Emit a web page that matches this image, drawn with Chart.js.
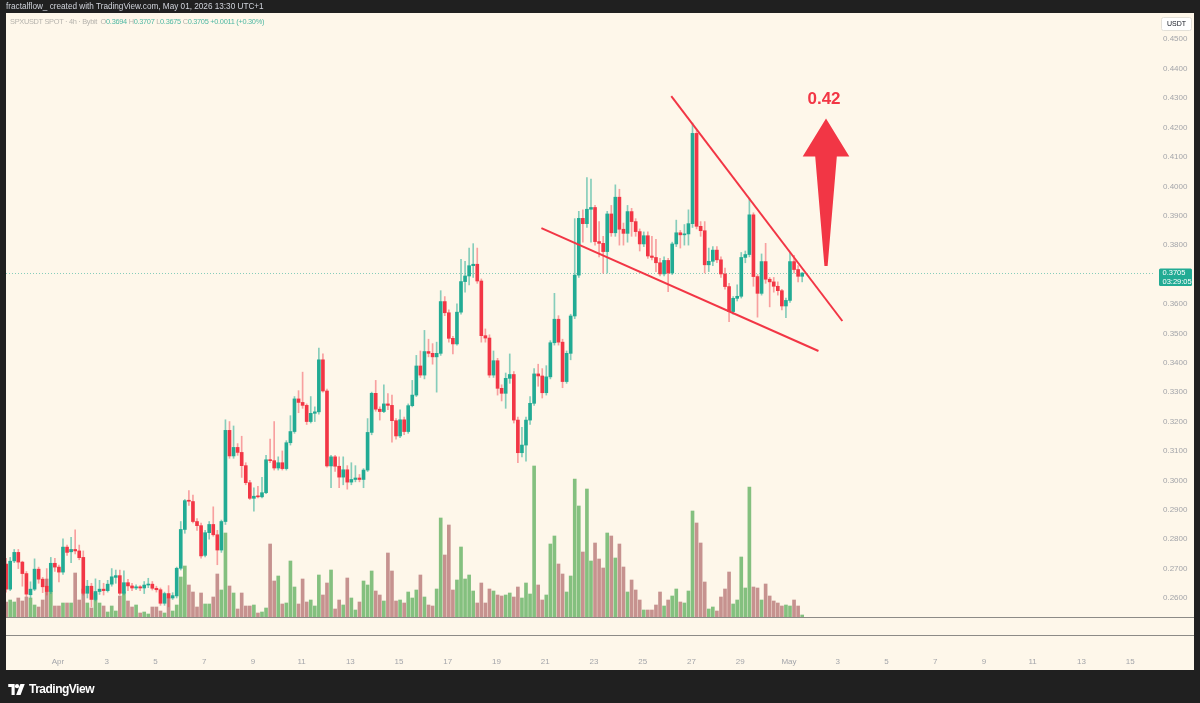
<!DOCTYPE html>
<html>
<head>
<meta charset="utf-8">
<title>SPXUSDT 4h</title>
<script src="https://cdn.jsdelivr.net/npm/chart.js@4.4.1/dist/chart.umd.min.js"></script>
<style>
  html, body { margin: 0; padding: 0; width: 1200px; height: 703px; overflow: hidden; background: #202020; font-family: "Liberation Sans", Arial, sans-serif; }
  #panel { position: absolute; left: 6px; top: 13px; width: 1188px; height: 657px; background: #fef7ea; }
  #chart { position: absolute; left: 0; top: 0; }
  #header { position: absolute; left: 6px; top: 1px; font-size: 8.2px; line-height: 11px; color: #d1d4dc; white-space: nowrap; }
  #legend { position: absolute; left: 10px; top: 17px; font-size: 7.4px; line-height: 10px; letter-spacing: -0.3px; color: #b5b3ad; white-space: nowrap; }
  #legend .v { color: #4fb8a3; }
  #footer { position: absolute; left: 8px; top: 681px; height: 16px; display: flex; align-items: center; color: #fff; font-size: 12px; font-weight: bold; letter-spacing: -0.5px; }
  #footer svg { margin-right: 4px; }
</style>
</head>
<body>
<div id="panel"></div>
<canvas id="chart" width="1200" height="703"></canvas>
<div id="header">fractalflow_ created with TradingView.com, May 01, 2026 13:30 UTC+1</div>
<div id="legend"></div>
<div id="footer">
  <svg width="17" height="11" viewBox="0 0 18 12"><path d="M0 0h7v12H3.6V3.4H0z" fill="#fff"/><circle cx="9.6" cy="2.4" r="2.3" fill="#fff"/><path d="M13.2 0H18l-4.6 12H8.6z" fill="#fff"/></svg>
  <span>TradingView</span>
</div>
<script>
// SPXUSDT 4h candles, Mar 29 21:00 -> May 1 13:00 (UTC+1)
var firstCandleDay = -2.125;   // days from Apr 1 00:00
var candlesPerDay = 6;

var openP = [
  .2715,.2630,.2726,.2755,.2722,.2683,.2611,.2630,.2698,.2664,
  .2640,.2622,.2718,.2705,.2688,.2773,.2757,.2765,.2760,.2738,
  .2616,.2640,.2595,.2622,.2630,.2625,.2647,.2670,.2676,.2616,
  .2652,.2641,.2634,.2638,.2634,.2644,.2647,.2633,.2628,.2582,
  .2615,.2600,.2607,.2701,.2833,.2931,.2928,.2860,.2846,.2745,
  .2822,.2850,.2815,.2763,.2860,.3170,.3083,.3112,.3095,.3050,
  .2992,.2939,.2946,.2944,.2958,.3070,.3067,.3042,.3060,.3040,
  .3128,.3166,.3277,.3265,.3255,.3200,.3228,.3233,.3410,.3304,
  .3049,.3080,.3048,.3011,.3036,.2994,.3003,.3008,.3003,.3035,
  .3163,.3296,.3242,.3234,.3260,.3255,.3203,.3151,.3206,.3166,
  .3254,.3290,.3389,.3358,.3438,.3432,.3420,.3432,.3608,.3570,
  .3483,.3464,.3572,.3676,.3695,.3730,.3735,.3678,.3492,.3484,
  .3358,.3407,.3313,.3296,.3347,.3360,.3205,.3094,.3120,.3205,
  .3262,.3362,.3355,.3298,.3352,.3468,.3548,.3470,.3336,.3432,
  .3559,.3698,.3891,.3873,.3922,.3928,.3812,.3806,.3778,.3906,
  .3842,.3963,.3854,.3840,.3914,.3880,.3846,.3804,.3832,.3763,
  .3758,.3740,.3702,.3748,.3705,.3804,.3842,.3835,.3838,.3873,
  .4180,.3864,.3849,.3733,.3745,.3783,.3750,.3702,.3659,.3574,
  .3619,.3626,.3758,.3768,.3903,.3693,.3636,.3744,.3684,.3675,
  .3660,.3645,.3593,.3612,.3744,.3717,.3694
];
var highP = [
  .2735,.2738,.2765,.2765,.2725,.2690,.2655,.2733,.2705,.2670,
  .2700,.2738,.2735,.2712,.2801,.2780,.2806,.2832,.2780,.2760,
  .2660,.2650,.2665,.2660,.2650,.2660,.2700,.2695,.2695,.2692,
  .2663,.2650,.2645,.2642,.2656,.2667,.2656,.2640,.2634,.2620,
  .2642,.2618,.2705,.2860,.2935,.2965,.2950,.2870,.2855,.2830,
  .2860,.2910,.2830,.2865,.3206,.3200,.3185,.3125,.3150,.3060,
  .3000,.2975,.2980,.3010,.3085,.3140,.3200,.3080,.3100,.3135,
  .3220,.3285,.3305,.3368,.3260,.3285,.3250,.3450,.3430,.3310,
  .3085,.3085,.3080,.3080,.3050,.3060,.3050,.3020,.3040,.3210,
  .3300,.3340,.3250,.3325,.3295,.3290,.3210,.3240,.3215,.3260,
  .3340,.3425,.3440,.3510,.3480,.3465,.3470,.3645,.3625,.3580,
  .3490,.3600,.3752,.3745,.3790,.3805,.3790,.3685,.3515,.3495,
  .3440,.3415,.3325,.3365,.3430,.3370,.3215,.3180,.3215,.3285,
  .3380,.3395,.3380,.3390,.3475,.3636,.3560,.3480,.3440,.3565,
  .3890,.3915,.3920,.4030,.4025,.3935,.3880,.3830,.3915,.3935,
  .4005,.3990,.3875,.3935,.3925,.3890,.3855,.3845,.3845,.3830,
  .3820,.3755,.3760,.3755,.3810,.3885,.3850,.3870,.3920,.4215,
  .4190,.3880,.3880,.3790,.3795,.3795,.3760,.3722,.3670,.3625,
  .3665,.3775,.3780,.3960,.3910,.3700,.3770,.3806,.3690,.3690,
  .3675,.3650,.3620,.3775,.3765,.3730,.3707
];
var lowP = [
  .2620,.2625,.2720,.2700,.2640,.2605,.2600,.2625,.2650,.2618,
  .2610,.2615,.2690,.2655,.2680,.2745,.2720,.2750,.2730,.2610,
  .2600,.2570,.2590,.2612,.2610,.2620,.2640,.2650,.2610,.2610,
  .2625,.2625,.2628,.2625,.2615,.2635,.2627,.2620,.2575,.2575,
  .2570,.2595,.2600,.2695,.2820,.2915,.2855,.2830,.2735,.2740,
  .2800,.2810,.2713,.2755,.2850,.3075,.3075,.3085,.3010,.2985,
  .2935,.2895,.2940,.2940,.2955,.3060,.3035,.3035,.3035,.3035,
  .3120,.3160,.3230,.3245,.3190,.3195,.3200,.3225,.3300,.3045,
  .2975,.3030,.2975,.2985,.2970,.2985,.2995,.2995,.2975,.3030,
  .3155,.3235,.3205,.3230,.3240,.3130,.3140,.3145,.3155,.3160,
  .3250,.3285,.3350,.3345,.3420,.3395,.3300,.3425,.3560,.3470,
  .3430,.3460,.3565,.3640,.3665,.3690,.3670,.3470,.3470,.3350,
  .3350,.3290,.3270,.3245,.3330,.3195,.3060,.3080,.3065,.3190,
  .3255,.3320,.3280,.3290,.3345,.3460,.3460,.3315,.3330,.3410,
  .3550,.3690,.3810,.3860,.3810,.3800,.3760,.3705,.3705,.3830,
  .3830,.3800,.3800,.3810,.3830,.3830,.3780,.3795,.3755,.3750,
  .3710,.3695,.3695,.3642,.3700,.3795,.3790,.3800,.3800,.3860,
  .3855,.3830,.3705,.3710,.3730,.3740,.3690,.3650,.3540,.3565,
  .3610,.3620,.3740,.3760,.3660,.3555,.3630,.3670,.3590,.3640,
  .3630,.3580,.3553,.3605,.3705,.3675,.3675
];
var closeP = [
  .2630,.2725,.2755,.2722,.2683,.2613,.2630,.2698,.2664,.2638,
  .2622,.2718,.2705,.2688,.2773,.2755,.2765,.2760,.2737,.2616,
  .2640,.2595,.2622,.2630,.2625,.2647,.2672,.2676,.2616,.2652,
  .2641,.2634,.2638,.2634,.2644,.2647,.2633,.2628,.2582,.2615,
  .2600,.2608,.2701,.2833,.2931,.2929,.2860,.2846,.2743,.2822,
  .2850,.2815,.2763,.2860,.3170,.3083,.3112,.3095,.3050,.2992,
  .2939,.2946,.2944,.2958,.3070,.3067,.3042,.3060,.3040,.3128,
  .3166,.3277,.3265,.3255,.3200,.3228,.3233,.3410,.3304,.3049,
  .3080,.3048,.3011,.3036,.2994,.3003,.3008,.3003,.3035,.3163,
  .3296,.3242,.3234,.3260,.3255,.3203,.3151,.3206,.3166,.3254,
  .3290,.3389,.3358,.3438,.3432,.3420,.3432,.3608,.3570,.3483,
  .3464,.3572,.3676,.3695,.3730,.3735,.3678,.3492,.3484,.3358,
  .3407,.3313,.3296,.3347,.3360,.3205,.3094,.3120,.3205,.3262,
  .3362,.3355,.3298,.3352,.3468,.3548,.3470,.3336,.3432,.3559,
  .3698,.3891,.3873,.3922,.3928,.3812,.3806,.3778,.3906,.3842,
  .3963,.3854,.3840,.3914,.3880,.3846,.3804,.3832,.3763,.3758,
  .3740,.3702,.3748,.3705,.3804,.3842,.3835,.3838,.3873,.4180,
  .3864,.3849,.3733,.3745,.3783,.3750,.3702,.3659,.3574,.3619,
  .3626,.3758,.3768,.3903,.3693,.3636,.3744,.3684,.3675,.3660,
  .3645,.3593,.3612,.3744,.3717,.3694,.3705
];
// volume, relative units
var volumeRel = [
  15,17,15,19,16,20,19,12,10,17,
  38,26,11,11,14,14,14,44,17,28,
  14,9,24,14,11,5,11,6,21,25,
  16,10,12,4,5,3,10,10,6,4,
  19,6,12,40,51,32,25,10,24,13,
  13,20,43,27,84,31,24,8,24,11,
  11,12,4,5,9,73,36,41,13,14,
  56,30,13,38,15,17,11,42,22,34,
  47,8,17,12,39,19,7,15,36,32,
  46,26,22,16,64,46,16,17,14,25,
  19,27,42,20,12,11,28,99,62,92,
  27,37,70,38,42,26,14,34,14,28,
  26,22,21,22,24,20,30,19,34,23,
  151,32,17,22,73,81,53,43,25,41,
  138,111,65,128,56,74,58,49,84,81,
  59,73,50,25,37,27,17,7,7,7,
  12,25,11,17,21,28,15,14,26,106,
  94,74,35,8,10,6,20,28,45,13,
  17,60,29,130,30,29,17,33,21,16,
  14,11,12,11,17,11,2
];

// axis ticks
var priceTicks = [0.26,0.27,0.28,0.29,0.30,0.31,0.32,0.33,0.34,0.35,0.36,0.37,0.38,0.39,0.40,0.41,0.42,0.43,0.44,0.45];
var dayTicks = [0,2,4,6,8,10,12,14,16,18,20,22,24,26,28,30,32,34,36,38,40,42,44];
var dayTickLabels = ['Apr','3','5','7','9','11','13','15','17','19','21','23','25','27','29','May','3','5','7','9','11','13','15'];

// drawings (day, price)
var upperTrend = [{x: 25.17, y: 0.4307}, {x: 32.19, y: 0.3542}];
var lowerTrend = [{x: 19.84, y: 0.3858}, {x: 31.21, y: 0.3440}];
var arrowDay = 31.52, arrowFrom = 0.3729, arrowHeadBase = 0.4101, arrowTip = 0.4231;
var targetText = '0.42', targetPrice = 0.4297;
var countdown = '03:29:05';

var up = '#22ab94', down = '#f23645';
var upWick = 'rgba(34,171,148,0.55)', downWick = 'rgba(242,54,69,0.45)';
var upVol = '#84c07f', downVol = '#c6928f';
var red = '#f23645';

var n = closeP.length;
var last = n - 1;
var dayOf = function (i) { return firstCandleDay + i / candlesPerDay; };
var isUp = closeP.map(function (c, i) { return c >= openP[i]; });

var bodyData = [], wickData = [], volData = [];
for (var i = 0; i < n; i++) {
  bodyData.push({x: dayOf(i), y: [openP[i], closeP[i]]});
  wickData.push({x: dayOf(i), y: [lowP[i], highP[i]]});
  volData.push({x: dayOf(i), y: volumeRel[i]});
}

// legend line
var chg = closeP[last] - closeP[last - 1];
var pct = chg / closeP[last - 1] * 100;
document.getElementById('legend').innerHTML =
  'SPXUSDT SPOT · 4h · Bybit &nbsp;O<span class="v">' + openP[last].toFixed(4) +
  '</span> H<span class="v">' + highP[last].toFixed(4) +
  '</span> L<span class="v">' + lowP[last].toFixed(4) +
  '</span> C<span class="v">' + closeP[last].toFixed(4) +
  '</span> <span class="v">' + (chg >= 0 ? '+' : '') + chg.toFixed(4) +
  ' (' + (pct >= 0 ? '+' : '') + pct.toFixed(2) + '%)</span>';

var overlay = {
  id: 'overlay',
  beforeDatasetsDraw: function (chart) {
    var ctx = chart.ctx, a = chart.chartArea, y = chart.scales.y;
    var py = Math.round(y.getPixelForValue(closeP[last])) + 0.5;
    ctx.save();
    ctx.strokeStyle = 'rgba(34,171,148,0.55)';
    ctx.lineWidth = 1;
    ctx.setLineDash([1, 2]);
    ctx.beginPath();
    ctx.moveTo(a.left, py);
    ctx.lineTo(a.right, py);
    ctx.stroke();
    ctx.restore();
  },
  afterDraw: function (chart) {
    var ctx = chart.ctx, a = chart.chartArea, x = chart.scales.x, y = chart.scales.y;
    ctx.save();

    // pane separators
    ctx.strokeStyle = '#8d8b87';
    ctx.lineWidth = 1;
    [a.bottom + 0.5, a.bottom + 18.5].forEach(function (ly) {
      ctx.beginPath();
      ctx.moveTo(6, ly);
      ctx.lineTo(1194, ly);
      ctx.stroke();
    });

    // arrow
    var ax = x.getPixelForValue(arrowDay);
    var yb = y.getPixelForValue(arrowFrom), yh = y.getPixelForValue(arrowHeadBase), yt = y.getPixelForValue(arrowTip);
    ctx.fillStyle = red;
    ctx.beginPath();
    ctx.moveTo(ax - 1.6, yb);
    ctx.lineTo(ax + 1.6, yb);
    ctx.lineTo(ax + 10.8, yh);
    ctx.lineTo(ax + 23.3, yh);
    ctx.lineTo(ax, yt);
    ctx.lineTo(ax - 23.3, yh);
    ctx.lineTo(ax - 10.8, yh);
    ctx.closePath();
    ctx.fill();

    // target text
    ctx.font = 'bold 17px "Liberation Sans", Arial, sans-serif';
    ctx.textAlign = 'center';
    ctx.textBaseline = 'middle';
    ctx.fillText(targetText, ax - 2, y.getPixelForValue(targetPrice));

    // USDT box
    ctx.fillStyle = '#ffffff';
    ctx.strokeStyle = '#e3e0d8';
    ctx.beginPath();
    ctx.roundRect(1161.5, 17.5, 30, 13, 2);
    ctx.fill();
    ctx.stroke();
    ctx.fillStyle = '#131722';
    ctx.font = '7px "Liberation Sans", Arial, sans-serif';
    ctx.fillText('USDT', 1176.5, 24.5);

    // last price tag
    var py = y.getPixelForValue(closeP[last]);
    ctx.fillStyle = up;
    ctx.beginPath();
    ctx.roundRect(1159, py - 4.5, 33, 17.5, 1.5);
    ctx.fill();
    ctx.fillStyle = '#ffffff';
    ctx.font = '7.5px "Liberation Sans", Arial, sans-serif';
    ctx.textAlign = 'left';
    ctx.fillText(closeP[last].toFixed(4), 1162.5, py);
    ctx.fillText(countdown, 1162.5, py + 8.5);

    ctx.restore();
  }
};

Chart.defaults.font.family = '"Liberation Sans", Arial, sans-serif';

new Chart(document.getElementById('chart'), {
  type: 'bar',
  data: {
    datasets: [
      {label: 'Volume', data: volData, yAxisID: 'yv', backgroundColor: isUp.map(function (u) { return u ? upVol : downVol; }), barThickness: 3, order: 4},
      {label: 'Wick', data: wickData, yAxisID: 'y', backgroundColor: isUp.map(function (u) { return u ? upWick : downWick; }), barThickness: 1, order: 3},
      {label: 'Body', data: bodyData, yAxisID: 'y', backgroundColor: isUp.map(function (u) { return u ? up : down; }), barThickness: 3, minBarLength: 1, order: 2},
      {type: 'line', label: 'Upper', data: upperTrend, yAxisID: 'y', borderColor: red, borderWidth: 2, pointRadius: 0, order: 1},
      {type: 'line', label: 'Lower', data: lowerTrend, yAxisID: 'y', borderColor: red, borderWidth: 2, pointRadius: 0, order: 1}
    ]
  },
  options: {
    responsive: false,
    animation: false,
    devicePixelRatio: 1,
    datasets: {bar: {grouped: false}},
    layout: {padding: {left: 6, right: 6, top: 13, bottom: 33}},
    plugins: {legend: {display: false}, tooltip: {enabled: false}},
    scales: {
      x: {
        type: 'linear', offset: false, min: -2.13, max: 45.02,
        grid: {display: false, drawTicks: false}, border: {display: false},
        afterFit: function (s) { s.height = 53; },
        afterBuildTicks: function (s) { s.ticks = dayTicks.map(function (v) { return {value: v}; }); },
        ticks: {
          autoSkip: false, maxRotation: 0, padding: 40, color: '#a3a5aa', font: {size: 8},
          callback: function (v, i) { return dayTickLabels[i]; }
        }
      },
      y: {
        type: 'linear', position: 'right', min: 0.25353, max: 0.45894,
        grid: {display: false, drawTicks: false}, border: {display: false},
        afterFit: function (s) { s.width = 39; },
        afterBuildTicks: function (s) { s.ticks = priceTicks.map(function (v) { return {value: v}; }); },
        ticks: {
          padding: 8, color: '#a3a5aa', font: {size: 8},
          callback: function (v) { return v.toFixed(4); }
        }
      },
      yv: {type: 'linear', display: false, min: 0, max: Math.max.apply(null, volumeRel) * 4}
    }
  },
  plugins: [overlay]
});
</script>
</body>
</html>
